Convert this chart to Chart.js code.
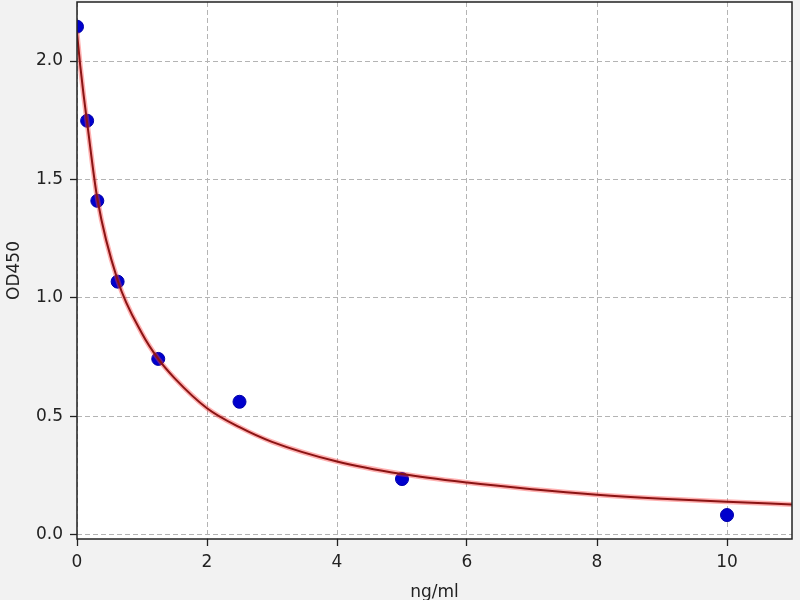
<!DOCTYPE html>
<html>
<head>
<meta charset="utf-8">
<script src="https://cdn.jsdelivr.net/npm/chart.js@4"></script>
<style>
  html, body { margin: 0; padding: 0; background: #f2f2f2; }
  #wrap { width: 800px; height: 600px; }
</style>
</head>
<body>
<div id="wrap"><canvas id="myChart" width="800" height="600"></canvas></div>
<script>
// 측정값 (ng/ml, OD450)
const conc = [0, 0.156, 0.3125, 0.625, 1.25, 2.5, 5, 10];
const od = [2.145, 1.748, 1.41, 1.069, 0.743, 0.562, 0.236, 0.084];

// 곡선
const curveX = [0, 0.05, 0.1, 0.156, 0.3125, 0.625, 1, 1.25, 1.5, 2, 2.5, 3, 4, 5, 6, 7, 8, 9, 10, 11];
const curveY = [2.12, 1.98, 1.86, 1.74, 1.42, 1.075, 0.85, 0.743, 0.662, 0.535, 0.455, 0.393, 0.31, 0.257, 0.221, 0.193, 0.170, 0.153, 0.140, 0.129];

const xTicks = [0, 2, 4, 6, 8, 10];
const yTicks = [0.0, 0.5, 1.0, 1.5, 2.0];

const toPoints = (xs, ys) => xs.map((x, i) => ({ x: x, y: ys[i] }));

const bgPlugin = {
  id: 'bg',
  beforeDraw(chart) {
    const c = chart.ctx, a = chart.chartArea;
    c.save();
    c.fillStyle = '#f2f2f2';
    c.fillRect(0, 0, chart.width, chart.height);
    c.fillStyle = '#ffffff';
    c.fillRect(a.left, a.top, a.right - a.left, a.bottom - a.top);
    c.restore();
  },
  afterDraw(chart) {
    const c = chart.ctx, a = chart.chartArea;
    c.save();
    c.strokeStyle = '#222';
    c.lineWidth = 1.5;
    c.strokeRect(a.left, a.top, a.right - a.left, a.bottom - a.top);
    c.restore();
  }
};

Chart.defaults.font.family = 'DejaVu Sans';
Chart.defaults.color = '#222';

document.addEventListener('DOMContentLoaded', function () {
  const ctx = document.getElementById('myChart').getContext('2d');

  const grid = {
    color: '#b4b4b4',
    lineWidth: 1,
    tickLength: 7,
    tickColor: '#222',
    tickBorderDash: [],
    tickWidth: 1.3
  };

  const noPad = (s) => { s.paddingTop = 0; s.paddingBottom = 0; s.paddingLeft = 0; s.paddingRight = 0; };

  new Chart(ctx, {
    type: 'scatter',
    data: {
      datasets: [
        {
          data: toPoints(curveX, curveY),
          showLine: true,
          borderColor: '#8b1414',
          borderWidth: 2,
          pointRadius: 0,
          cubicInterpolationMode: 'monotone',
          order: 1
        },
        {
          data: toPoints(curveX, curveY),
          showLine: true,
          borderColor: 'rgba(255,60,60,0.4)',
          borderWidth: 5,
          pointRadius: 0,
          cubicInterpolationMode: 'monotone',
          order: 2
        },
        {
          data: toPoints(conc, od),
          backgroundColor: 'rgb(0,0,205)',
          borderColor: 'rgb(0,0,170)',
          borderWidth: 1,
          pointRadius: 6.5,
          order: 3
        }
      ]
    },
    options: {
      responsive: false,
      animation: false,
      layout: { autoPadding: false, padding: { top: 2, right: 8, left: 0, bottom: 0 } },
      plugins: { legend: { display: false }, tooltip: { enabled: false } },
      scales: {
        x: {
          type: 'linear',
          min: 0,
          max: 11,
          grid: grid,
          border: { display: false, dash: [5, 3] },
          afterBuildTicks: (s) => { s.ticks = xTicks.map(v => ({ value: v })); },
          afterFit: (s) => { s.height = 61; noPad(s); },
          ticks: { font: { size: 17 }, padding: 6, callback: (v) => String(v) },
          title: { display: true, text: 'ng/ml', font: { size: 17 }, padding: { top: 4, bottom: -3 } }
        },
        y: {
          type: 'linear',
          min: -0.017,
          max: 2.249,
          grid: grid,
          border: { display: false, dash: [5, 3] },
          afterBuildTicks: (s) => { s.ticks = yTicks.map(v => ({ value: v })); },
          afterFit: (s) => { s.width = 77; noPad(s); },
          ticks: { font: { size: 17 }, padding: 7, callback: (v) => v.toFixed(1) },
          title: { display: true, text: 'OD450', font: { size: 17 }, padding: { bottom: 2 } }
        }
      }
    },
    plugins: [bgPlugin]
  });
});
</script>
</body>
</html>
